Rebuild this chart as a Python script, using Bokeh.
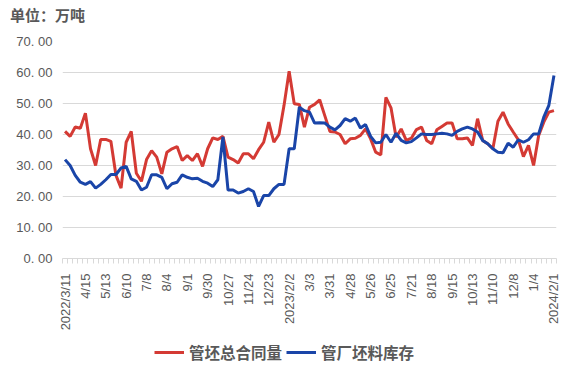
from math import pi
from bokeh.plotting import figure
from bokeh.layouts import column
from bokeh.models import Range1d, FixedTicker, Legend, LegendItem, Div
from bokeh.embed import file_html
from bokeh.resources import INLINE

# weekly observations, index 0 = 2022/3/11 ... index 96 = 2024/2/1
contract = [41.0, 39.4, 42.4, 42.0, 46.9, 35.4, 30.0, 38.4, 38.4, 37.8,
            26.8, 22.7, 37.5, 41.0, 27.5, 24.9, 31.9, 34.8, 32.7, 27.3,
            34.3, 35.4, 36.1, 31.6, 33.2, 31.6, 33.8, 29.7, 35.4, 38.9,
            38.4, 39.4, 32.7, 31.9, 30.8, 33.8, 33.8, 32.2, 35.1, 37.5,
            44.0, 37.5, 40.0, 49.4, 60.4, 49.9, 49.7, 42.4, 48.8, 49.7,
            51.2, 46.1, 41.0, 40.8, 40.0, 37.0, 38.6, 38.8, 39.7, 41.8,
            38.6, 34.3, 33.4, 52.0, 48.6, 39.1, 41.8, 38.1, 38.8, 41.6,
            42.4, 38.1, 37.0, 41.5, 42.6, 43.7, 43.7, 38.6, 38.6, 38.9,
            36.5, 45.1, 38.1, 37.0, 35.4, 44.3, 47.2, 43.4, 40.8, 38.3,
            32.9, 36.5, 30.0, 39.7, 44.0, 47.2, 47.7]

stock = [31.9, 30.0, 26.8, 24.6, 23.9, 24.8, 22.7, 23.9, 25.4, 27.1,
         27.1, 29.2, 29.7, 25.7, 24.9, 22.1, 23.0, 27.0, 27.0, 26.2,
         22.5, 24.1, 24.6, 27.0, 26.2, 25.7, 25.9, 24.9, 24.3, 23.2,
         25.4, 39.2, 22.1, 22.1, 21.1, 21.6, 22.5, 21.6, 16.8, 20.3,
         20.3, 22.5, 23.9, 23.9, 35.4, 35.4, 48.8, 47.7, 47.2, 43.7,
         43.8, 43.7, 42.4, 41.5, 42.9, 45.1, 44.3, 45.3, 42.1, 43.2,
         39.4, 37.3, 37.5, 40.0, 37.5, 40.4, 38.1, 37.3, 37.7, 38.9,
         40.2, 40.0, 40.0, 40.2, 40.4, 40.2, 39.7, 41.0, 41.8, 42.4,
         41.8, 40.8, 38.1, 37.0, 35.4, 34.3, 34.1, 37.2, 35.9, 38.3,
         37.5, 38.3, 40.2, 40.2, 45.6, 49.4, 59.0]

tick_labels = ["2022/3/11", "4/15", "5/13", "6/10", "7/8", "8/4", "9/1", "9/30",
               "10/27", "11/24", "12/23", "2023/2/2", "3/3", "3/31", "4/28",
               "5/26", "6/25", "7/21", "8/18", "9/15", "10/13", "11/10",
               "12/8", "1/4", "2024/2/1"]
label_step = 4
y_ticks = [0, 10, 20, 30, 40, 50, 60, 70]

series_names = ["管坯总合同量", "管厂坯料库存"]
title_text = "单位：万吨"
colors = ["#D43A34", "#1A45A8"]

n = len(contract)
xs = list(range(n))

GRAY = "#D9D9D9"
TXT = "#595959"
NUM_FONT = "Liberation Sans"
CJK_FONT = "Noto Sans CJK SC"
W = 573
HEAD_H = 28
LEG_H = 41

# header with unit text
head = Div(text=(f'<div style="padding:5px 0 0 10px;font-family:\'{CJK_FONT}\';'
                 f'font-size:15px;line-height:20px;font-weight:bold;color:{TXT};'
                 f'white-space:nowrap;">{title_text}</div>'),
           width=W, height=HEAD_H, margin=0)

# main chart
p = figure(frame_width=494, frame_height=217, output_backend="svg", toolbar_location=None,
           x_range=Range1d(-0.5, n - 0.5), y_range=Range1d(0, 70),
           min_border_left=62, min_border_right=17, min_border_top=41 - HEAD_H,
           min_border_bottom=80)
p.outline_line_color = None
p.background_fill_color = "white"
p.border_fill_color = "white"

r1 = p.line(xs, contract, line_color=colors[0], line_width=3)
r2 = p.line(xs, stock, line_color=colors[1], line_width=3)

p.yaxis.ticker = FixedTicker(ticks=y_ticks)
p.yaxis.major_label_overrides = {v: f"{v}. 00" for v in y_ticks}
p.yaxis.axis_line_color = None
p.yaxis.major_tick_line_color = None
p.yaxis.minor_tick_line_color = None
p.yaxis.major_tick_out = 0
p.yaxis.major_label_standoff = 10
p.yaxis.major_label_text_font = NUM_FONT
p.yaxis.major_label_text_font_size = "13px"
p.yaxis.major_label_text_color = TXT

major = list(range(0, n, label_step))
p.xaxis.ticker = FixedTicker(ticks=major, minor_ticks=[k - 0.5 for k in range(n + 1)])
p.xaxis.major_label_overrides = {t: lab for t, lab in zip(major, tick_labels)}
p.xaxis.axis_line_color = GRAY
p.xaxis.major_tick_line_color = None
p.xaxis.major_tick_out = 0
p.xaxis.major_tick_in = 0
p.xaxis.minor_tick_line_color = GRAY
p.xaxis.minor_tick_out = 5
p.xaxis.minor_tick_in = 0
p.xaxis.major_label_orientation = pi / 2
p.xaxis.major_label_standoff = 10
p.xaxis.major_label_text_font = NUM_FONT
p.xaxis.major_label_text_font_size = "13px"
p.xaxis.major_label_text_color = TXT

p.xgrid.visible = False
p.ygrid.grid_line_color = GRAY
p.ygrid.grid_line_width = 1

# legend strip (same series, drawn out of view so only the legend shows)
leg = figure(width=W, height=LEG_H, output_backend="svg", toolbar_location=None,
             x_range=Range1d(-0.5, n - 0.5), y_range=Range1d(100, 100 + LEG_H),
             x_axis_location=None, y_axis_location=None, min_border=0)
leg.outline_line_color = None
leg.grid.visible = False
l1 = leg.line(xs, contract, line_color=colors[0], line_width=3)
l2 = leg.line(xs, stock, line_color=colors[1], line_width=3)
legend = Legend(items=[LegendItem(label=series_names[0], renderers=[l1]),
                       LegendItem(label=series_names[1], renderers=[l2])],
                orientation="horizontal", location=(92, 16),
                label_text_font=CJK_FONT, label_text_font_size="15.5px",
                label_text_font_style="bold", label_text_color=TXT,
                glyph_width=30, glyph_height=16, label_standoff=5, spacing=4,
                padding=0, margin=0, border_line_color=None,
                background_fill_alpha=0)
leg.add_layout(legend, "center")

layout = column(head, p, leg, spacing=0)
open("out.html", "w").write(file_html(layout, INLINE))
